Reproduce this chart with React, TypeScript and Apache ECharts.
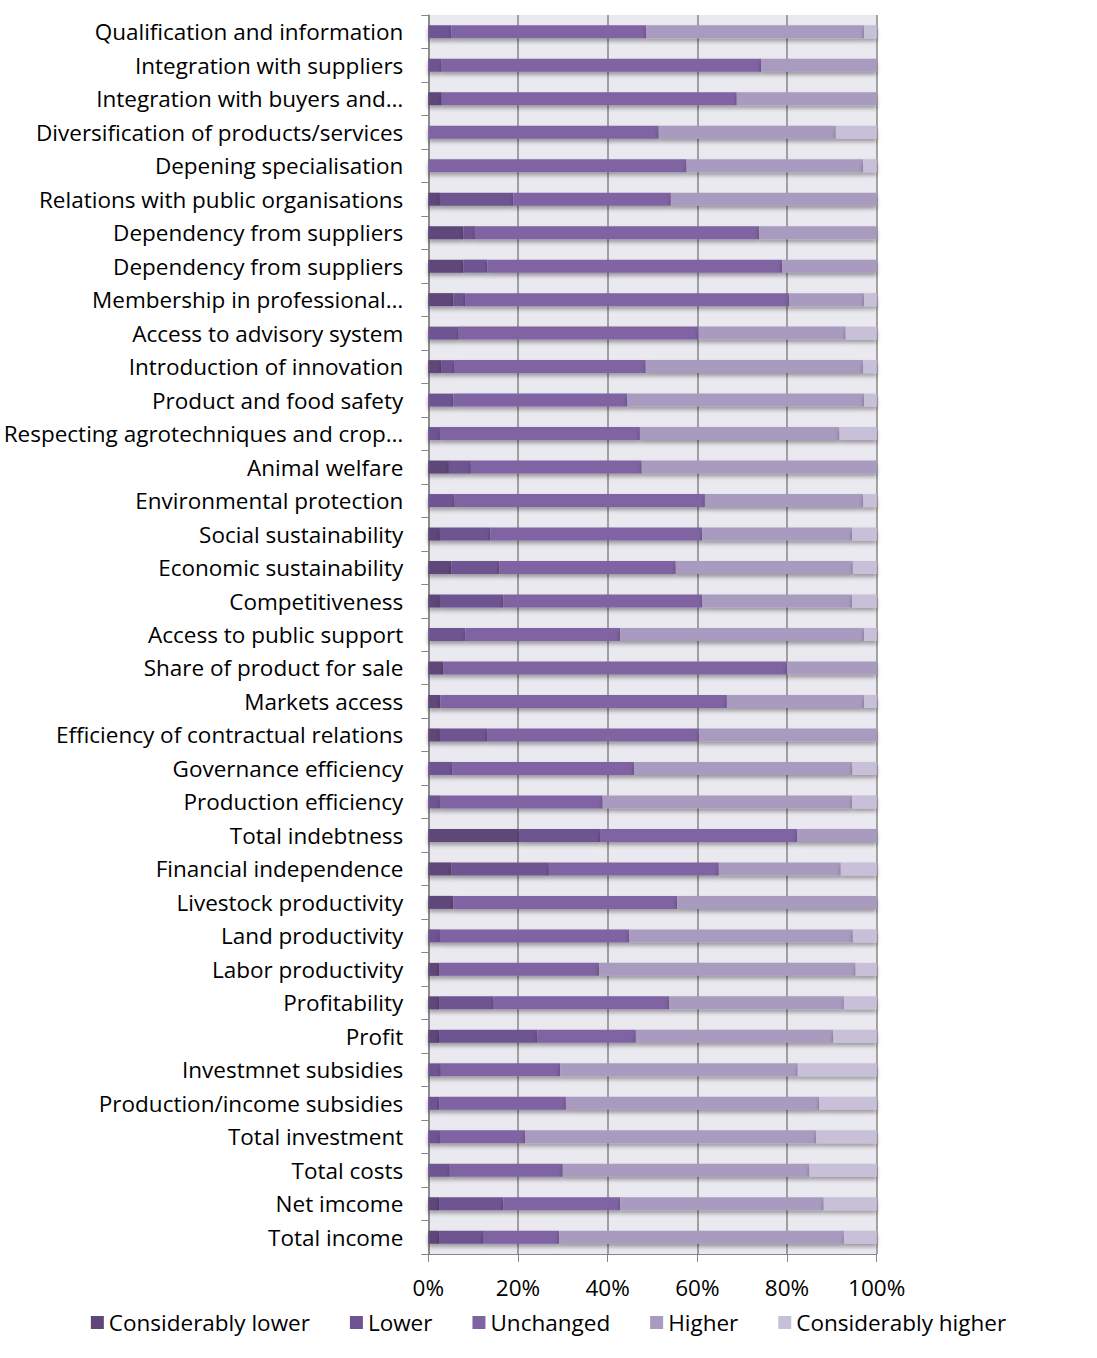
import React, { useEffect, useRef } from "react";
import * as echarts from "echarts";

// Indicators, listed top to bottom
const categories = [
  "Qualification and information",
  "Integration with suppliers",
  "Integration with buyers and…",
  "Diversification of products/services",
  "Depening specialisation",
  "Relations with public organisations",
  "Dependency from suppliers",
  "Dependency from suppliers",
  "Membership in professional…",
  "Access to advisory system",
  "Introduction of innovation",
  "Product and food safety",
  "Respecting agrotechniques and crop…",
  "Animal welfare",
  "Environmental protection",
  "Social sustainability",
  "Economic sustainability",
  "Competitiveness",
  "Access to public support",
  "Share of product for sale",
  "Markets access",
  "Efficiency of contractual relations",
  "Governance efficiency",
  "Production efficiency",
  "Total indebtness",
  "Financial independence",
  "Livestock productivity",
  "Land productivity",
  "Labor productivity",
  "Profitability",
  "Profit",
  "Investmnet subsidies",
  "Production/income subsidies",
  "Total investment",
  "Total costs",
  "Net imcome",
  "Total income",
];

// Shares of answers (%) per indicator, same order as categories
const considerablyLower = [
  0, 0, 3.0, 0, 0, 2.6, 7.8, 7.8, 5.6, 0, 3.0, 0, 0, 4.6, 0, 2.6, 5.2, 2.6, 0,
  3.3, 2.7, 2.6, 0, 0, 20.4, 5.2, 5.6, 0, 2.4, 2.4, 2.4, 0, 0, 0, 0, 2.4, 2.4,
];
const lower = [
  5.2, 3.0, 0, 0, 0, 16.4, 2.6, 5.4, 2.6, 6.8, 2.9, 5.6, 2.6, 4.9, 5.9, 11.2,
  10.6, 14.1, 8.3, 0, 0, 10.5, 5.3, 2.6, 17.9, 21.7, 0, 2.6, 0, 12.2, 21.9, 2.8,
  2.4, 2.6, 4.8, 14.3, 9.8,
];
const unchanged = [
  43.4, 71.2, 65.8, 51.4, 57.6, 35.1, 63.4, 65.7, 72.3, 53.5, 42.6, 38.8, 44.6,
  38.1, 55.8, 47.3, 39.4, 44.4, 34.5, 76.7, 63.9, 47.3, 40.6, 36.3, 44.0, 37.9,
  49.9, 42.2, 35.7, 39.1, 22.0, 26.6, 28.3, 19.0, 25.2, 26.1, 17.0,
];
const higher = [
  48.6, 25.8, 31.2, 39.5, 39.4, 45.9, 26.2, 21.1, 16.7, 32.8, 48.5, 52.8, 44.5,
  52.4, 35.3, 33.4, 39.5, 33.4, 54.4, 20.0, 30.6, 39.6, 48.7, 55.6, 17.7, 27.2,
  44.5, 49.9, 57.2, 39.0, 44.0, 53.0, 56.5, 64.9, 55.0, 45.4, 63.5,
];
const considerablyHigher = [
  2.8, 0, 0, 9.1, 3.0, 0, 0, 0, 2.8, 6.9, 3.0, 2.8, 8.3, 0, 3.0, 5.5, 5.3, 5.5,
  2.8, 0, 2.8, 0, 5.4, 5.5, 0, 8.0, 0, 5.3, 4.7, 7.3, 9.7, 17.6, 12.8, 13.5, 15.0,
  11.8, 7.3,
];

const seriesNames = [
  "Considerably lower",
  "Lower",
  "Unchanged",
  "Higher",
  "Considerably higher",
];
const seriesData = [considerablyLower, lower, unchanged, higher, considerablyHigher];
const seriesColors = ["#5e4679", "#6e5591", "#8064a2", "#a99bbf", "#c8c0d8"];

const xTicks = [0, 20, 40, 60, 80, 100];

const FONT = "'Open Sans', Lato, sans-serif";
const FONT_SIZE = 22.5;

export default function App() {
  const ref = useRef<HTMLDivElement>(null);

  useEffect(() => {
    if (!ref.current) return;
    const chart = echarts.init(ref.current, undefined, { renderer: "svg" });
    chart.setOption({
      animation: false,
      textStyle: { fontFamily: FONT },
      grid: {
        left: 428.3,
        top: 15,
        width: 448.4,
        height: 1239,
        outerBoundsMode: "none",
        containLabel: false,
        backgroundColor: "#ebe9f0",
        show: true,
        borderWidth: 0,
      },
      legend: {
        data: seriesNames,
        top: 1306,
        left: "center",
        icon: "rect",
        itemWidth: 13,
        itemHeight: 13,
        itemGap: 40,
        itemStyle: { borderWidth: 0 },
        textStyle: { fontSize: FONT_SIZE, color: "#000", fontFamily: FONT },
      },
      xAxis: {
        type: "value",
        min: xTicks[0],
        max: xTicks[xTicks.length - 1],
        interval: 20,
        axisLine: { show: true, lineStyle: { color: "#868686", width: 1 } },
        axisTick: { show: true, length: 8, lineStyle: { color: "#868686" } },
        axisLabel: {
          formatter: "{value}%",
          fontSize: FONT_SIZE,
          color: "#000",
          margin: 22,
          fontFamily: FONT,
        },
        splitLine: { show: true, lineStyle: { color: "#868686", width: 1.5 } },
      },
      yAxis: {
        type: "category",
        data: categories,
        inverse: true,
        axisLine: { show: true, lineStyle: { color: "#868686", width: 1.5 } },
        axisTick: { show: true, length: 7, lineStyle: { color: "#868686" } },
        axisLabel: {
          fontSize: FONT_SIZE,
          color: "#000",
          margin: 25,
          fontFamily: FONT,
        },
        splitLine: { show: false },
      },
      series: seriesNames.map((name, i) => ({
        name,
        type: "bar",
        stack: "total",
        barWidth: 13,
        data: seriesData[i],
        itemStyle: {
          color: seriesColors[i],
          shadowColor: "rgba(0,0,0,0.35)",
          shadowBlur: 4,
          shadowOffsetY: 3,
        },
      })),
    });
    return () => chart.dispose();
  }, []);

  return (
    <div
      ref={ref}
      style={{ position: "absolute", left: 0, top: 0, width: 1097, height: 1358 }}
    />
  );
}
